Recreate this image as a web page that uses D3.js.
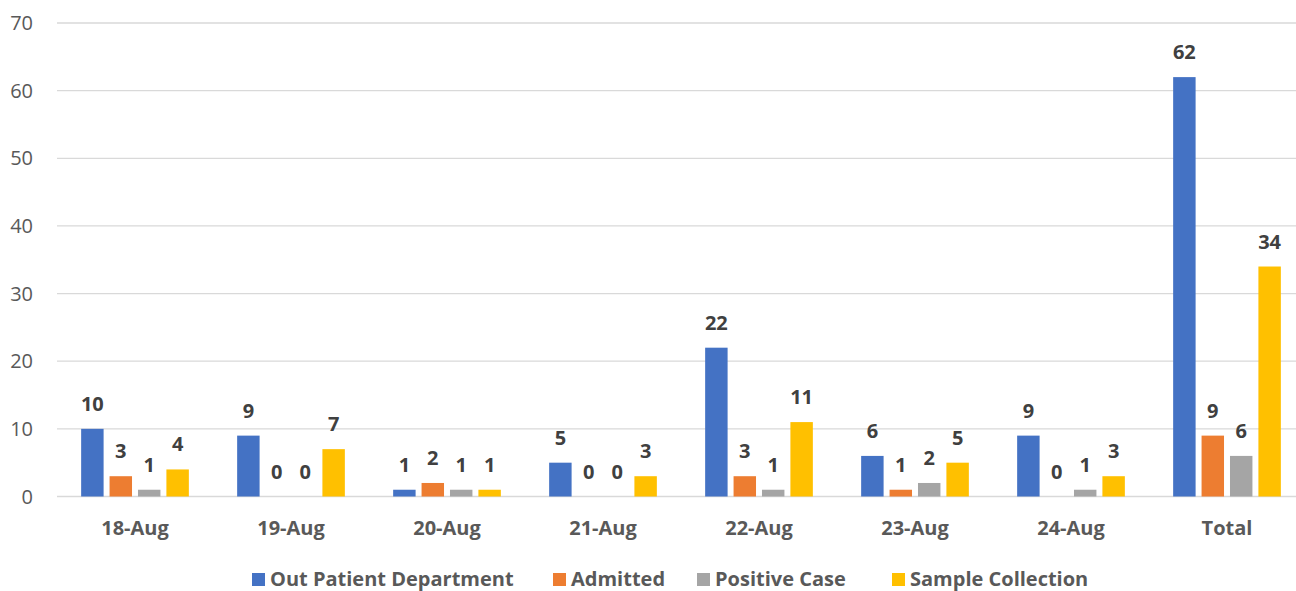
<!DOCTYPE html>
<html>
<head>
<meta charset="utf-8">
<script src="https://cdn.jsdelivr.net/npm/d3@7"></script>
<style>
  body { margin: 0; background: #fff; }
  svg text { font-family: "Open Sans", sans-serif; }
</style>
</head>
<body>
<div id="chart"></div>
<script>
// data //
var days = ["18-Aug", "19-Aug", "20-Aug", "21-Aug", "22-Aug", "23-Aug", "24-Aug", "Total"];
var seriesNames = ["Out Patient Department", "Admitted", "Positive Case", "Sample Collection"];
var opd = [10, 9, 1, 5, 22, 6, 9, 62];
var admitted = [3, 0, 2, 0, 3, 1, 0, 9];
var positive = [1, 0, 1, 0, 1, 2, 1, 6];
var sample = [4, 7, 1, 3, 11, 5, 3, 34];
var yTicks = [0, 10, 20, 30, 40, 50, 60, 70];
var colors = ["#4472C4", "#ED7D31", "#A5A5A5", "#FFC000"];

var width = 1296, height = 591;
var plotLeft = 57, plotRight = 1305, plotTop = 23, plotBottom = 496.5;

var svg = d3.select("#chart").append("svg")
  .attr("width", width)
  .attr("height", height);

var x = d3.scaleBand().domain(days).range([plotLeft, plotRight]).paddingInner(0).paddingOuter(0);
var x1 = d3.scaleBand().domain(d3.range(4)).range([0, 107.7]).paddingInner(0.21);
var y = d3.scaleLinear().domain([0, 70]).range([plotBottom, plotTop]);

// gridlines + y labels
var grid = svg.append("g");
grid.selectAll("line")
  .data(yTicks)
  .enter().append("line")
  .attr("x1", plotLeft).attr("x2", width)
  .attr("y1", function(d) { return y(d); })
  .attr("y2", function(d) { return y(d); })
  .attr("stroke", "#D9D9D9")
  .attr("stroke-width", 1.3);

grid.selectAll("text")
  .data(yTicks)
  .enter().append("text")
  .attr("x", 33)
  .attr("y", function(d) { return y(d) + 7; })
  .attr("text-anchor", "end")
  .attr("fill", "#595959")
  .style("font-size", "20px")
  .text(function(d) { return d; });

var all = [opd, admitted, positive, sample];
var rows = [];
days.forEach(function(d, i) {
  all.forEach(function(s, k) {
    rows.push({day: d, k: k, v: s[i]});
  });
});

var groupOffset = (x.bandwidth() - 107.7) / 2;

svg.append("g").selectAll("rect")
  .data(rows)
  .enter().append("rect")
  .attr("x", function(d) { return x(d.day) + groupOffset + x1(d.k); })
  .attr("y", function(d) { return y(d.v); })
  .attr("width", x1.bandwidth())
  .attr("height", function(d) { return y(0) - y(d.v); })
  .attr("fill", function(d) { return colors[d.k]; });

svg.append("g").selectAll("text")
  .data(rows)
  .enter().append("text")
  .attr("x", function(d) { return x(d.day) + groupOffset + x1(d.k) + x1.bandwidth() / 2; })
  .attr("y", function(d) { return y(d.v) - 18; })
  .attr("text-anchor", "middle")
  .attr("fill", "#404040")
  .style("font-size", "20px")
  .style("font-weight", "bold")
  .text(function(d) { return d.v; });

// x labels
svg.append("g").selectAll("text")
  .data(days)
  .enter().append("text")
  .attr("x", function(d) { return x(d) + x.bandwidth() / 2; })
  .attr("y", 535)
  .attr("text-anchor", "middle")
  .attr("fill", "#595959")
  .style("font-size", "20px")
  .style("font-weight", "bold")
  .text(function(d) { return d; });

// legend
var legendX = [252, 553, 697, 892];
var lg = svg.append("g").selectAll("g")
  .data(seriesNames)
  .enter().append("g")
  .attr("transform", function(d, i) { return "translate(" + legendX[i] + ",573)"; });

lg.append("rect")
  .attr("width", 13).attr("height", 13)
  .attr("fill", function(d, i) { return colors[i]; });

lg.append("text")
  .attr("x", 18)
  .attr("y", 13)
  .attr("fill", "#595959")
  .style("font-size", "20px")
  .style("font-weight", "bold")
  .text(function(d) { return d; });
</script>
</body>
</html>
